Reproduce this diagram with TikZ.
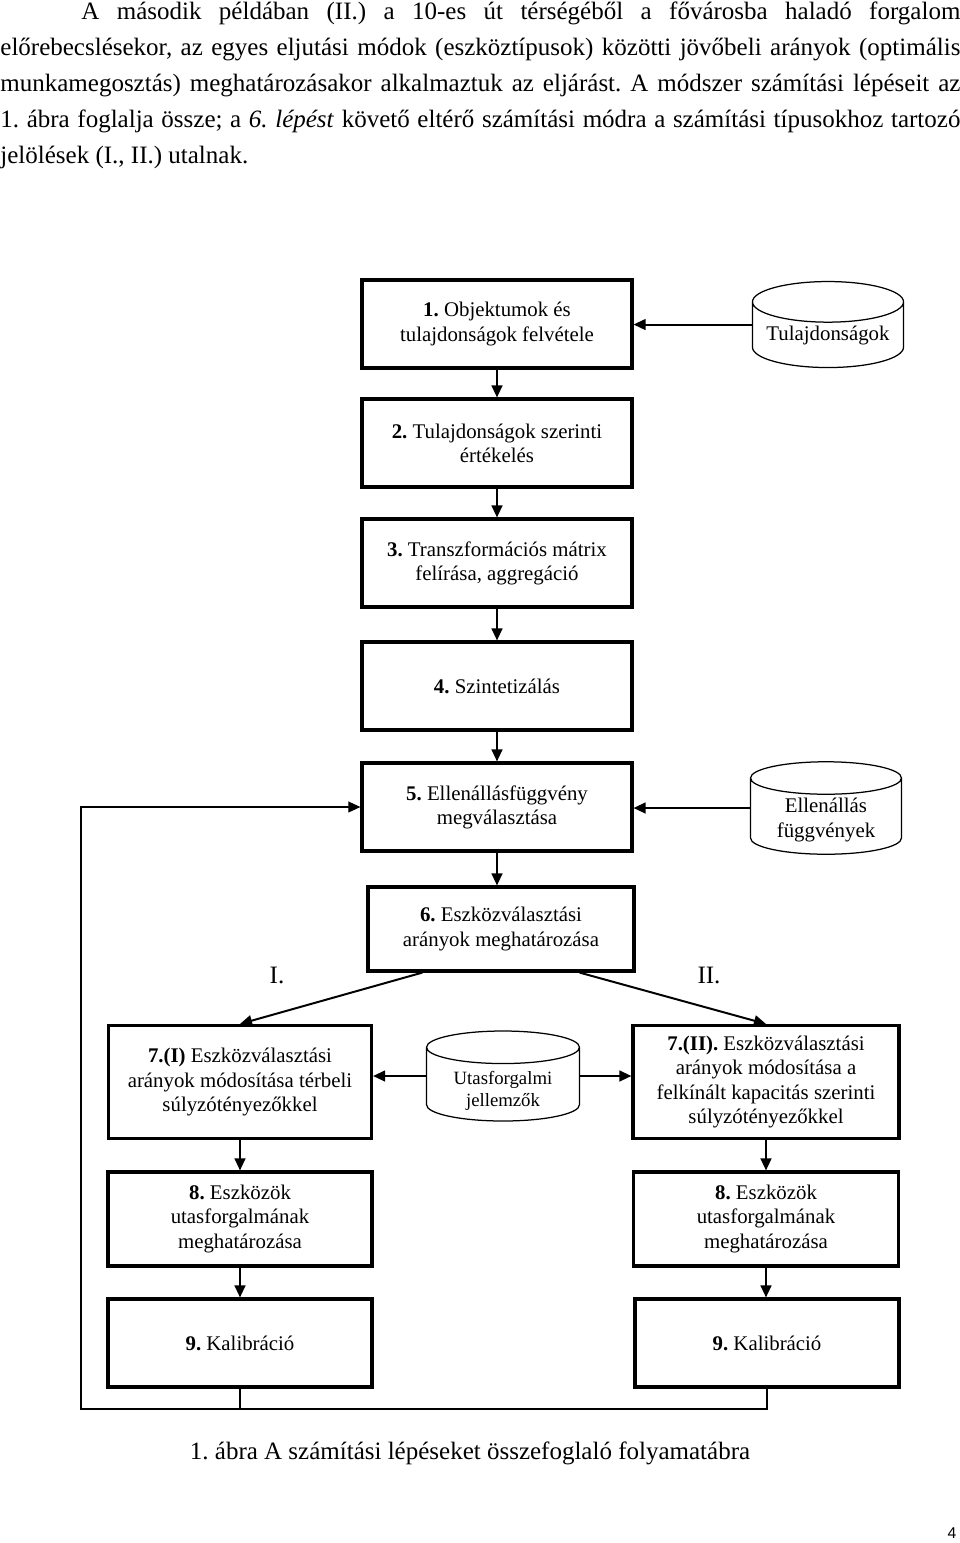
\documentclass[tikz,border=0pt]{standalone}
\usepackage{fontspec}
\setmainfont{Liberation Serif}
\newfontfamily\pagenumfont{Liberation Sans}
\usetikzlibrary{arrows.meta,shapes.geometric,calc}

\newcommand{\pxu}{0.48pt}
\newcommand{\boxfont}{\fontsize{10}{11.6}\selectfont}
\newcommand{\bodyfont}{\fontsize{12}{14}\selectfont}
\newcommand{\smallboxfont}{\fontsize{9}{10.8}\selectfont}
\frenchspacing

\tikzset{
    stepbox/.style={draw, line width=1.5pt, align=center, inner sep=0pt,
        font=\boxfont, minimum width=270*\pxu, minimum height=88*\pxu},
    dbase/.style={cylinder, shape border rotate=90, aspect=0.33, draw,
        line width=0.6pt, align=center, inner sep=0pt, font=\boxfont,
        minimum width=151*\pxu, minimum height=86*\pxu},
    flow/.style={line width=0.95pt, -{Triangle[length=5.8pt, width=5.2pt]}},
    backline/.style={line width=0.6pt},
    bodyline/.style={anchor=base west, inner sep=0pt, font=\bodyfont},
}

\begin{document}
\begin{tikzpicture}[x=\pxu, y=-\pxu]
    \useasboundingbox (0,0) rectangle (960,1543);

    %% text above the figure
    \node[bodyline] (para1) at (81,19) {\makebox[421.9pt][s]{A második példában (II.) a 10-es út térségéből a fővárosba haladó forgalom}};
    \node[bodyline] (para2) at (0,55) {\makebox[460.8pt][s]{előrebecslésekor, az egyes eljutási módok (eszköztípusok) közötti jövőbeli arányok (optimális}};
    \node[bodyline] (para3) at (0,91) {\makebox[460.8pt][s]{munkamegosztás) meghatározásakor alkalmaztuk az eljárást. A módszer számítási lépéseit az}};
    \node[bodyline] (para4) at (0,127) {\makebox[460.8pt][s]{1. ábra foglalja össze; a \textit{6. lépést} követő eltérő számítási módra a számítási típusokhoz tartozó}};
    \node[bodyline] (para5) at (0,163) {jelölések (I., II.) utalnak.};

    %% main column
    \node[stepbox] (one) at (497,324) {\textbf{1.} Objektumok és\\tulajdonságok felvétele};
    \node[dbase] (tul) at (828,335) {Tulajdonságok};
    \node[stepbox] (two) at (497,443) {\textbf{2.} Tulajdonságok szerinti\\értékelés};
    \node[stepbox] (three) at (497,563) {\textbf{3.} Transzformációs mátrix\\felírása, aggregáció};
    \node[stepbox] (four) at (497,686) {\textbf{4.} Szintetizálás};
    \node[stepbox] (five) at (497,807) {\textbf{5.} Ellenállásfüggvény\\megválasztása};
    \node[dbase, anchor=shape center] (ell) at (826,808) {\phantom{Ellenállás}\\\phantom{függvények}};
    \node[font=\boxfont, align=center, inner sep=0pt] (elltext) at (826,820) {Ellenállás\\függvények};
    \node[stepbox, minimum width=266*\pxu, minimum height=84*\pxu] (six) at (501,929) {\textbf{6.} Eszközválasztási\\arányok meghatározása};

    \draw[flow] (tul.shape center -| tul.west) -- (tul.shape center -| one.east);
    \draw[flow] (one) -- (two);
    \draw[flow] (two) -- (three);
    \draw[flow] (three) -- (four);
    \draw[flow] (four) -- (five);
    \draw[flow] (ell.shape center -| ell.west) -- (ell.shape center -| five.east);
    \draw[flow] (five.south) -- (five.south |- six.north);

    %% branches I. and II.
    \node[font=\bodyfont] (labI) at (277,975) {I.};
    \node[font=\bodyfont] (labII) at (709,975) {II.};

    \node[stepbox, minimum width=263*\pxu, minimum height=113*\pxu] (sevenI) at (240,1082)
        {\textbf{7.(I)} Eszközválasztási\\arányok módosítása térbeli\\súlyzótényezőkkel};
    \node[dbase, anchor=shape center, font=\smallboxfont, minimum width=153*\pxu, minimum height=90*\pxu] (uta) at (503,1076)
        {\phantom{Utasforgalmi}\\\phantom{jellemzők}};
    \node[font=\smallboxfont, align=center, inner sep=0pt] (utatext) at (503,1091)
        {Utasforgalmi\\jellemzők};
    \node[stepbox, minimum width=266*\pxu, minimum height=113*\pxu] (sevenII) at (766,1082)
        {\textbf{7.(II).} Eszközválasztási\\arányok módosítása a\\felkínált kapacitás szerinti\\súlyzótényezőkkel};

    \node[stepbox, minimum width=264*\pxu, minimum height=94*\pxu] (eightI) at (240,1219)
        {\textbf{8.} Eszközök\\utasforgalmának\\meghatározása};
    \node[stepbox, minimum width=265*\pxu, minimum height=94*\pxu] (eightII) at (766,1219)
        {\textbf{8.} Eszközök\\utasforgalmának\\meghatározása};
    \node[stepbox, minimum width=264*\pxu] (nineI) at (240,1343) {\textbf{9.} Kalibráció};
    \node[stepbox, minimum width=264*\pxu] (nineII) at (767,1343) {\textbf{9.} Kalibráció};

    \draw[flow] ($(six.south west)+(56,0)$) -- (sevenI.north);
    \draw[flow] ($(six.south east)+(-56,0)$) -- (sevenII.north);
    \draw[flow] (uta.shape center -| uta.west) -- (uta.shape center -| sevenI.east);
    \draw[flow] (uta.shape center -| uta.east) -- (uta.shape center -| sevenII.west);
    \draw[flow] (sevenI.south) -- (sevenI.south |- eightI.north);
    \draw[flow] (sevenII.south) -- (sevenII.south |- eightII.north);
    \draw[flow] (eightI.south) -- (eightI.south |- nineI.north);
    \draw[flow] (eightII.south) -- (eightII.south |- nineII.north);

    %% feedback to step 5
    \coordinate (backcorner) at (81,1409);
    \draw[backline] (nineI.south) -- (nineI.south |- backcorner);
    \draw[backline, -{Triangle[length=5.8pt, width=5.2pt]}]
        (nineII.south) |- (backcorner) |- (five.west);

    %% caption and page number
    \node[font=\bodyfont] (caption) at (470,1453) {1. ábra A számítási lépéseket összefoglaló folyamatábra};
    \node[font=\pagenumfont\fontsize{7.5}{9}\selectfont] (pagenum) at (952,1533) {4};
\end{tikzpicture}
\end{document}
